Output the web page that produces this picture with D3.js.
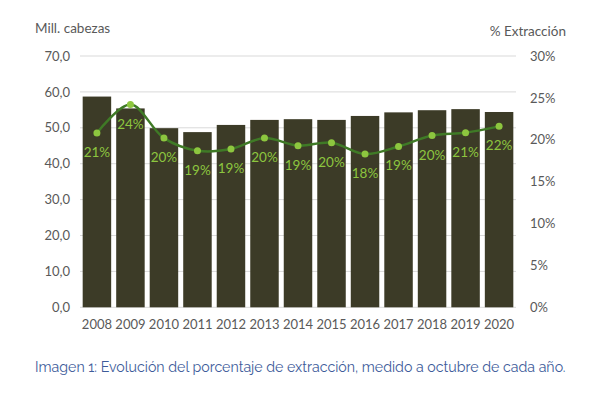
<!DOCTYPE html>
<html>
<head>
<meta charset="utf-8">
<script src="https://cdn.jsdelivr.net/npm/d3@7"></script>
<style>
  body { margin: 0; background: #fff; }
</style>
</head>
<body>
<script>
var years = ["2008","2009","2010","2011","2012","2013","2014","2015","2016","2017","2018","2019","2020"];
var cabezas = [58.7, 55.4, 49.9, 48.8, 50.8, 52.2, 52.4, 52.2, 53.3, 54.3, 54.9, 55.2, 54.4];
var extraccion = [20.8, 24.2, 20.2, 18.7, 18.9, 20.2, 19.3, 19.65, 18.3, 19.2, 20.5, 20.85, 21.6];
var pctLabels = ["21%","24%","20%","19%","19%","20%","19%","20%","18%","19%","20%","21%","22%"];
var leftTicks = [0, 10, 20, 30, 40, 50, 60, 70];
var rightTicks = [0, 5, 10, 15, 20, 25, 30];

var w = 597;
var h = 394;
var plotLeft = 80, plotRight = 516, plotTop = 56, plotBottom = 307.3;

var svg = d3.select("body")
    .append("svg")
    .attr("width", w)
    .attr("height", h);

var x = d3.scaleBand()
    .domain(years)
    .range([plotLeft, plotRight])
    .paddingInner(0.15)
    .paddingOuter(0.08);

var y = d3.scaleLinear().domain([0, 70]).range([plotBottom, plotTop]);
var y2 = d3.scaleLinear().domain([0, 30]).range([plotBottom, plotTop]);

var font = "Lato, 'Open Sans', sans-serif";

// gridlines
svg.selectAll("line.grid")
   .data(leftTicks)
   .enter()
   .append("line")
   .attr("class", "grid")
   .attr("x1", plotLeft)
   .attr("x2", plotRight)
   .attr("y1", function(d) { return y(d); })
   .attr("y2", function(d) { return y(d); })
   .attr("stroke", "#d9d9d9")
   .attr("stroke-width", 1);

// left axis
var leftAxis = svg.append("g")
   .attr("transform", "translate(" + plotLeft + ",0)")
   .call(d3.axisLeft(y).tickValues(leftTicks).tickSize(0).tickPadding(10)
         .tickFormat(function(d) { return d3.format(".1f")(d).replace(".", ","); }));
leftAxis.select(".domain").remove();
leftAxis.selectAll("text")
   .attr("font-family", font)
   .attr("font-size", "13px")
   .attr("fill", "#595959");

// right axis
var rightAxis = svg.append("g")
   .attr("transform", "translate(" + plotRight + ",0)")
   .call(d3.axisRight(y2).tickValues(rightTicks).tickSize(0).tickPadding(14)
         .tickFormat(function(d) { return d + "%"; }));
rightAxis.select(".domain").remove();
rightAxis.selectAll("text")
   .attr("font-family", font)
   .attr("font-size", "13px")
   .attr("fill", "#595959");

// bottom axis
var bottomAxis = svg.append("g")
   .attr("transform", "translate(0," + plotBottom + ")")
   .call(d3.axisBottom(x).tickSize(0).tickPadding(12));
bottomAxis.select(".domain").remove();
bottomAxis.selectAll("text")
   .attr("font-family", font)
   .attr("font-size", "13px")
   .attr("fill", "#595959");

// bars
svg.selectAll("rect.bar")
   .data(cabezas)
   .enter()
   .append("rect")
   .attr("class", "bar")
   .attr("x", function(d, i) { return x(years[i]); })
   .attr("y", function(d) { return y(d); })
   .attr("width", x.bandwidth())
   .attr("height", function(d) { return plotBottom - y(d); })
   .attr("fill", "#3c3b27");

// line
var line = d3.line()
   .x(function(d, i) { return x(years[i]) + x.bandwidth() / 2; })
   .y(function(d) { return y2(d); })
   .curve(d3.curveCatmullRom.alpha(0.5));

svg.append("path")
   .datum(extraccion)
   .attr("d", line)
   .attr("fill", "none")
   .attr("stroke", "#3f7a26")
   .attr("stroke-width", 2.5);

svg.selectAll("circle.pt")
   .data(extraccion)
   .enter()
   .append("circle")
   .attr("class", "pt")
   .attr("cx", function(d, i) { return x(years[i]) + x.bandwidth() / 2; })
   .attr("cy", function(d) { return y2(d); })
   .attr("r", 3.5)
   .attr("fill", "#8dc63f");

svg.selectAll("text.pct")
   .data(extraccion)
   .enter()
   .append("text")
   .attr("class", "pct")
   .text(function(d, i) { return pctLabels[i]; })
   .attr("text-anchor", "middle")
   .attr("x", function(d, i) { return x(years[i]) + x.bandwidth() / 2; })
   .attr("y", function(d) { return y2(d) + 24; })
   .attr("font-family", font)
   .attr("font-size", "13.5px")
   .attr("fill", "#8dc63f");

// axis titles
svg.append("text")
   .text("Mill. cabezas")
   .attr("x", 35)
   .attr("y", 33)
   .attr("font-family", font)
   .attr("font-size", "13.5px")
   .attr("fill", "#595959");

svg.append("text")
   .text("% Extracción")
   .attr("x", 566)
   .attr("y", 36)
   .attr("text-anchor", "end")
   .attr("font-family", font)
   .attr("font-size", "13.5px")
   .attr("fill", "#595959");

// caption
svg.append("text")
   .text("Imagen 1: Evolución del porcentaje de extracción, medido a octubre de cada año.")
   .attr("x", 35)
   .attr("y", 372)
   .attr("font-family", "Raleway, 'Open Sans', Lato, sans-serif")
   .attr("font-size", "14.2px")
   .attr("fill", "#3d5b9a");
</script>
</body>
</html>
